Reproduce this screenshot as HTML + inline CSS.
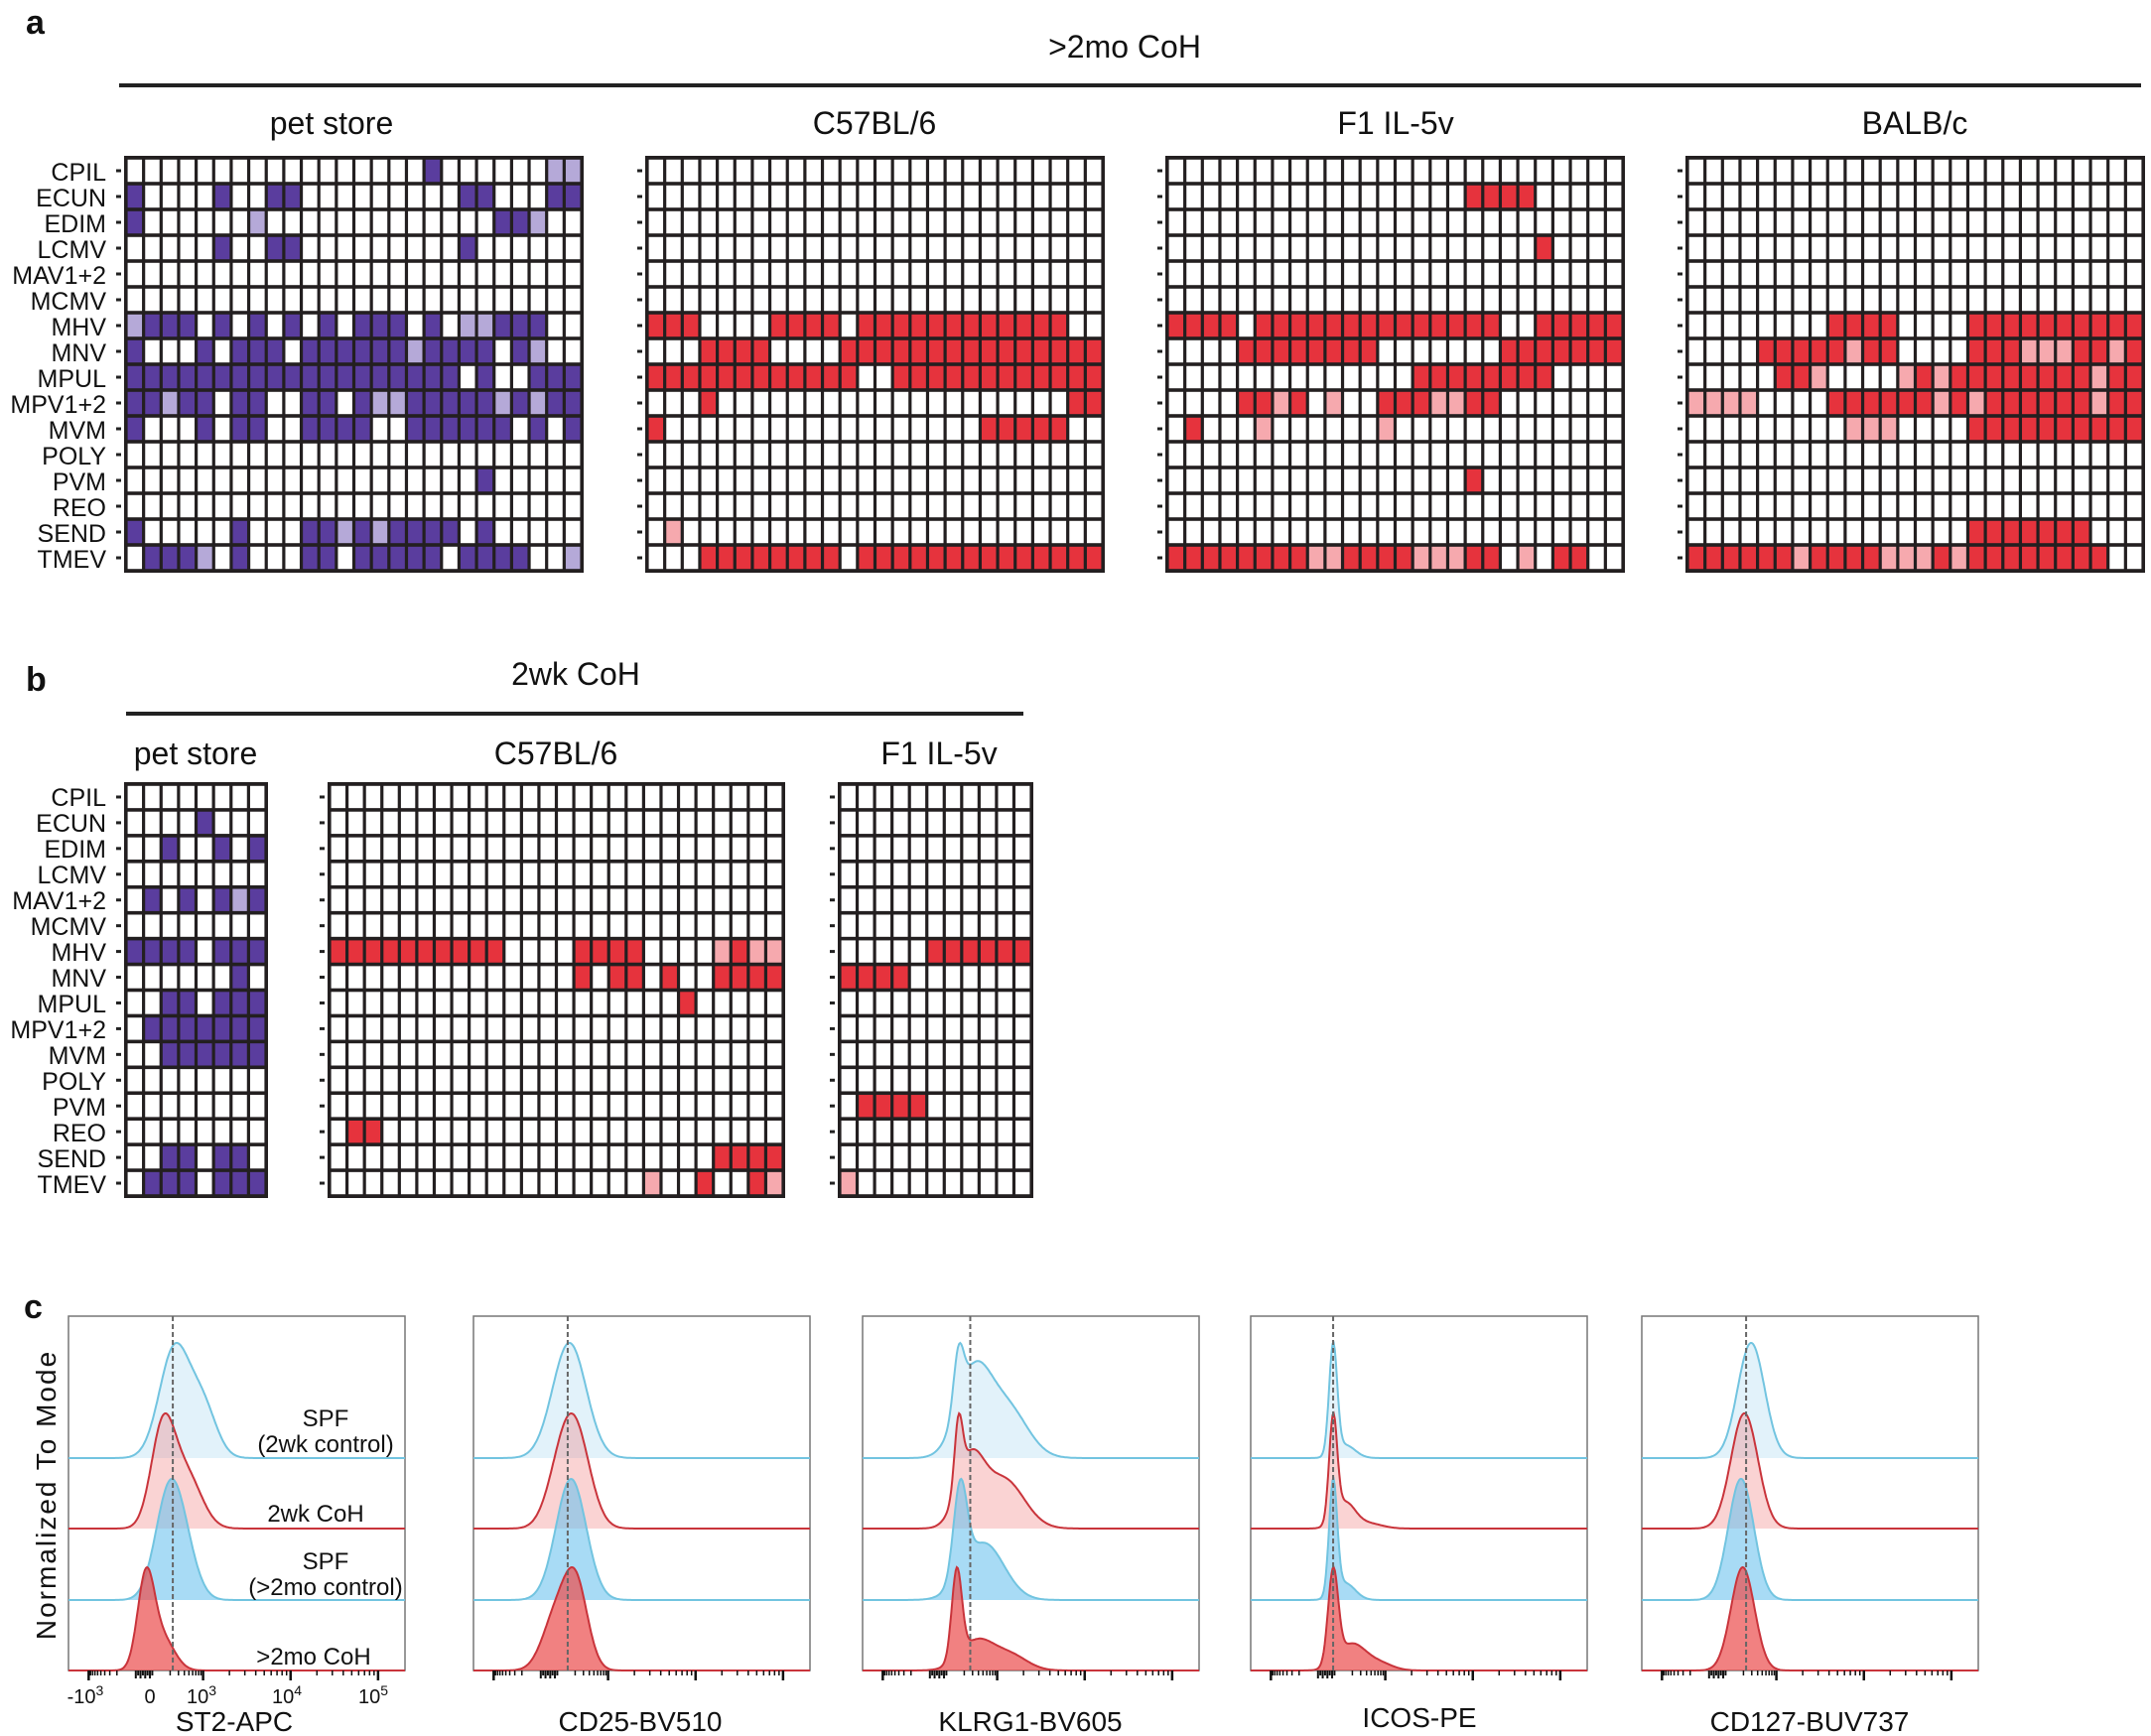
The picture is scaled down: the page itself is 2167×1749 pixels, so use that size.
<!DOCTYPE html>
<html><head><meta charset="utf-8">
<style>
html,body{margin:0;padding:0;background:#fff;}
svg{display:block;}
.t{font-family:"Liberation Sans",sans-serif;fill:#111;}
.n{font-family:"Liberation Sans Narrow","Liberation Sans",sans-serif;fill:#111;}
</style></head>
<body>
<svg id="s" xmlns="http://www.w3.org/2000/svg" width="2167" height="1749" viewBox="0 0 2167 1749">
<rect width="2167" height="1749" fill="#fff"/>
<g id="dyn"></g>
<!-- panel a headers -->
<text class="t" x="26" y="34" font-size="34" font-weight="bold">a</text>
<text class="t" x="1133" y="58" font-size="32" text-anchor="middle">&gt;2mo CoH</text>
<line x1="120" y1="86" x2="2157" y2="86" stroke="#222" stroke-width="4"/>
<text class="t" x="334" y="135" font-size="32" text-anchor="middle">pet store</text>
<text class="t" x="881" y="135" font-size="32" text-anchor="middle">C57BL/6</text>
<text class="t" x="1406" y="135" font-size="32" text-anchor="middle">F1 IL-5v</text>
<text class="t" x="1929" y="135" font-size="32" text-anchor="middle">BALB/c</text>
<g class="n" font-size="25" text-anchor="end">
<text x="107" y="182">CPIL</text><text x="107" y="208">ECUN</text><text x="107" y="234">EDIM</text><text x="107" y="260">LCMV</text>
<text x="107" y="286">MAV1+2</text><text x="107" y="312">MCMV</text><text x="107" y="338">MHV</text><text x="107" y="364">MNV</text>
<text x="107" y="390">MPUL</text><text x="107" y="416">MPV1+2</text><text x="107" y="442">MVM</text><text x="107" y="468">POLY</text>
<text x="107" y="494">PVM</text><text x="107" y="520">REO</text><text x="107" y="546">SEND</text><text x="107" y="572">TMEV</text>
</g>
<!-- panel b headers -->
<text class="t" x="26" y="696" font-size="34" font-weight="bold">b</text>
<text class="t" x="580" y="690" font-size="32" text-anchor="middle">2wk CoH</text>
<line x1="127" y1="719" x2="1031" y2="719" stroke="#222" stroke-width="4"/>
<text class="t" x="197" y="770" font-size="32" text-anchor="middle">pet store</text>
<text class="t" x="560" y="770" font-size="32" text-anchor="middle">C57BL/6</text>
<text class="t" x="946" y="770" font-size="32" text-anchor="middle">F1 IL-5v</text>
<g class="n" font-size="25" text-anchor="end">
<text x="107" y="812">CPIL</text><text x="107" y="838">ECUN</text><text x="107" y="864">EDIM</text><text x="107" y="890">LCMV</text>
<text x="107" y="916">MAV1+2</text><text x="107" y="942">MCMV</text><text x="107" y="968">MHV</text><text x="107" y="994">MNV</text>
<text x="107" y="1020">MPUL</text><text x="107" y="1046">MPV1+2</text><text x="107" y="1072">MVM</text><text x="107" y="1098">POLY</text>
<text x="107" y="1124">PVM</text><text x="107" y="1150">REO</text><text x="107" y="1176">SEND</text><text x="107" y="1202">TMEV</text>
</g>
<!-- panel c text -->
<text class="t" x="24" y="1328" font-size="34" font-weight="bold">c</text>
<text class="t" x="56" y="1506" font-size="28" letter-spacing="2" text-anchor="middle" transform="rotate(-90 56 1506)">Normalized To Mode</text>
<g class="n" font-size="24" text-anchor="middle">
<text x="328" y="1437">SPF</text><text x="328" y="1463">(2wk control)</text>
<text x="318" y="1533">2wk CoH</text>
<text x="328" y="1581">SPF</text><text x="328" y="1607">(&gt;2mo control)</text>
<text x="316" y="1677">&gt;2mo CoH</text>
</g>
<g class="n" font-size="20" text-anchor="middle">
<text x="86" y="1716">-10<tspan dy="-8" font-size="14">3</tspan></text>
<text x="151" y="1716">0</text>
<text x="203" y="1716">10<tspan dy="-8" font-size="14">3</tspan></text>
<text x="289" y="1716">10<tspan dy="-8" font-size="14">4</tspan></text>
<text x="376" y="1716">10<tspan dy="-8" font-size="14">5</tspan></text>
</g>
<g class="n" font-size="28" text-anchor="middle">
<text x="236" y="1744">ST2-APC</text>
<text x="645" y="1744">CD25-BV510</text>
<text x="1038" y="1744">KLRG1-BV605</text>
<text x="1430" y="1740">ICOS-PE</text>
<text x="1823" y="1744">CD127-BUV737</text>
</g>
</svg>
<script>
(function(){
var NS="http://www.w3.org/2000/svg",g=document.getElementById('dyn');
function el(t,a){var e=document.createElementNS(NS,t);for(var k in a)e.setAttribute(k,a[k]);g.appendChild(e);return e;}
var COL={'.':'#fff','P':'#5a3d9e','p':'#b5a9d8','R':'#e6333d','r':'#f6a9ae'};
function grid(x0,y0,w,h,rows,red){
  var nr=rows.length,nc=rows[0].length,cw=w/nc,ch=h/nr;
  el('rect',{x:x0-2,y:y0-2,width:w+4,height:h+4,fill:'#231f20'});
  for(var i=0;i<nr;i++){for(var j=0;j<nc;j++){
    var c=rows[i][j]; if(red&&c=='p')c='r';
    el('rect',{x:(x0+j*cw+1.6).toFixed(2),y:(y0+i*ch+1.8).toFixed(2),width:(cw-3.2).toFixed(2),height:(ch-3.6).toFixed(2),fill:COL[c]});}
    el('rect',{x:x0-10,y:y0+i*ch+ch/2-1.5,width:5,height:3,fill:'#222'});
  }
}
function R(n,spec){var r=[];for(var i=0;i<16;i++){r.push(spec[i]||Array(n+1).join('.'));}return r;}
grid(127,159,459,416,R(26,{0:".................P......pp",1:"P....P..PP.........PP...PP",2:"P......p.............PPp..",3:".....P..PP.........P......",
6:"pPPP.P.P.P.P.PPP.P.ppPPP..",7:"P...P.PPP.PPPPPPpPPPP.Pp..",8:"PPPPPPPPPPPPPPPPPPP.P..PPP",9:"PPpPP.PP..PP.PppPPPPPpPpPP",
10:"P...P.PP..PPPP..PPPPPP.P.P",12:"....................P.....",14:"P.....P...PPpPpPPPP.P.....",15:".PPPp.P...PP.PPPPP.PPPP..p"}),false);
grid(652,159,459,416,R(26,{6:"RRR....RRRR.RRRRRRRRRRRR..",7:"...RRRR....RRRRRRRRRRRRRRR",8:"RRRRRRRRRRRR..RRRRRRRRRRRR",
9:"...R....................RR",10:"R..................RRRRR..",14:".r........................",15:"...RRRRRRRR.RRRRRRRRRRRRRR"}),true);
grid(1176,159,459,416,R(26,{1:".................RRRR.....",3:".....................R....",6:"RRRR.RRRRRRRRRRRRRR..RRRRR",
7:"....RRRRRRRR.......RRRRRRR",8:"..............RRRRRRRR....",9:"....RRpR.p..RRRppRR.......",10:".R...r......r.............",
12:".................R........",15:"RRRRRRRRppRRRRpppRR.p.RR.."}),true);
grid(1700,159,459,416,R(26,{6:"........RRRR....RRRRRRRRRR",7:"....RRRRRrRR....RRRrrrRRrR",8:".....RRr....rRrRRRRRRRRrRR",
9:"pppp....RRRRRRrRpRRRRRRrRR",10:".........rrr....RRRRRRRRRR",14:"................RRRRRRR...",15:"RRRRRRrRRRRrrrRrRRRRRRRR.."}),true);
grid(127,790,141,415,R(8,{1:"....P...",2:"..P..P.P",4:".P.P.PpP",6:"PPPP.PPP",7:"......P.",8:"..PP.PPP",9:".PPPPPPP",10:"..PPPPPP",14:"..PP.PP.",15:".PPP.PPP"}),false);
grid(332,790,457,415,R(26,{6:"RRRRRRRRRR....RRRR....rRrr",7:"..............R.RR.R..RRRR",8:"....................R.....",
13:".RR.......................",14:"......................RRRR",15:"..................r..R..Rr"}),true);
grid(846,790,193,415,R(11,{6:".....RRRRRR",7:"RRRR.......",12:".RRRR......",15:"r.........."}),true);

var plots=[69,477,869,1260,1654],PW=339,TOP=1326,BOT=1683,bases=[1469,1540,1612,1683];
var dash=[0.31,0.28,0.32,0.245,0.31];
var comps=[
 [[[0.315,0.045,1],[0.4,0.04,0.45]],[[0.28,0.035,1],[0.35,0.045,0.55]],[[0.295,0.04,1],[0.34,0.04,0.5]],[[0.23,0.025,1],[0.28,0.035,0.35]]],
 [[[0.285,0.05,1]],[[0.30,0.045,1],[0.25,0.04,0.3]],[[0.29,0.045,1]],[[0.305,0.035,1],[0.245,0.04,0.65]]],
 [[[0.285,0.015,0.5],[0.33,0.05,0.75],[0.43,0.06,0.45]],[[0.285,0.012,0.6],[0.32,0.04,0.6],[0.42,0.06,0.45]],[[0.29,0.02,0.8],[0.36,0.06,0.5]],[[0.28,0.015,0.9],[0.34,0.05,0.3],[0.44,0.05,0.15]]],
 [[[0.245,0.012,1],[0.28,0.03,0.12]],[[0.245,0.012,1],[0.28,0.03,0.25],[0.35,0.04,0.05]],[[0.245,0.012,1],[0.28,0.03,0.15]],[[0.245,0.015,1],[0.3,0.04,0.28],[0.38,0.04,0.08]]],
 [[[0.325,0.04,1]],[[0.305,0.04,1]],[[0.295,0.038,1]],[[0.3,0.035,1]]]
];
var fills=['rgba(150,210,238,0.28)','rgba(240,130,130,0.35)','rgba(110,195,238,0.6)','rgba(236,80,80,0.72)'];
var lines=['#72c4e0','#c9343b','#72c4e0','#c9343b'];
var heights=[116,116,122,104];
for(var p=0;p<5;p++){
  var x0=plots[p];
  el('rect',{x:x0,y:TOP,width:PW,height:BOT-TOP,fill:'#fff',stroke:'#777','stroke-width':1.5});
  for(var t=0;t<4;t++){
    var cs=comps[p][t],N=300,vals=[],mx=0;
    for(var k=0;k<=N;k++){var u=k/N,v=0;cs.forEach(function(c){v+=c[2]*Math.exp(-0.5*Math.pow((u-c[0])/c[1],2));});vals.push(v);if(v>mx)mx=v;}
    var d='M'+x0+','+bases[t];
    for(var k=0;k<=N;k++){d+=' L'+(x0+PW*k/N).toFixed(1)+','+(bases[t]-heights[t]*vals[k]/mx).toFixed(1);}
    el('path',{d:d+' L'+(x0+PW)+','+bases[t]+' Z',fill:fills[t],stroke:'none'});
    el('path',{d:d,fill:'none',stroke:lines[t],'stroke-width':2});
  }
  var dx=x0+PW*dash[p];
  el('line',{x1:dx,y1:TOP,x2:dx,y2:BOT,stroke:'#666','stroke-width':2,'stroke-dasharray':'5,3'});
  var maj=[0.06,0.4,0.66,0.92];
  maj.forEach(function(m){el('line',{x1:x0+PW*m,y1:BOT,x2:x0+PW*m,y2:BOT+10,stroke:'#111','stroke-width':2.5});});
  for(var a=1;a<3;a++){for(var q=2;q<10;q++){var xx=x0+PW*(maj[a]+(maj[a+1]-maj[a])*Math.log10(q));el('line',{x1:xx,y1:BOT,x2:xx,y2:BOT+5,stroke:'#111','stroke-width':1.5});}}
  for(var q=2;q<10;q++){var xx=x0+PW*(0.06+0.12*(1-Math.log10(q)));el('line',{x1:xx,y1:BOT,x2:xx,y2:BOT+5,stroke:'#111','stroke-width':1.5});}
  for(var q=0;q<8;q++){var xx=x0+PW*(0.2+q*0.007);el('line',{x1:xx,y1:BOT,x2:xx,y2:BOT+(q%2?5:8),stroke:'#111','stroke-width':2});}
  for(var q=2;q<10;q++){var xx=x0+PW*(0.26+0.14*Math.log10(q));el('line',{x1:xx,y1:BOT,x2:xx,y2:BOT+5,stroke:'#111','stroke-width':1.5});}
}
})();
</script>
</body></html>
